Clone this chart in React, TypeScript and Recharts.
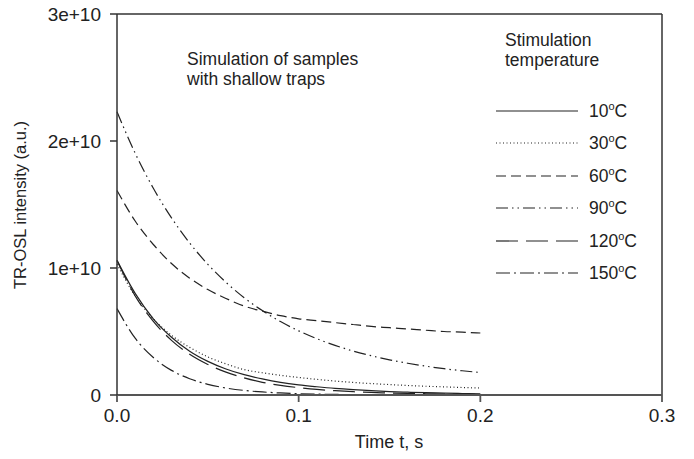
import { LineChart, Line, XAxis, YAxis, ReferenceLine } from 'recharts';

// time axis (s) and TR-OSL intensity in units of 1e10 a.u.
const times = [0, 0.01, 0.02, 0.03, 0.04, 0.05, 0.06, 0.07, 0.08, 0.09, 0.1,
  0.11, 0.12, 0.13, 0.14, 0.15, 0.16, 0.17, 0.18, 0.19, 0.2];

const t10 = [1.06, 0.8, 0.6, 0.455, 0.345, 0.265, 0.205, 0.16, 0.127, 0.1, 0.08,
  0.065, 0.052, 0.042, 0.034, 0.027, 0.022, 0.018, 0.015, 0.012, 0.01];
const t30 = [1.03, 0.78, 0.6, 0.47, 0.375, 0.3, 0.245, 0.2, 0.175, 0.155, 0.138,
  0.123, 0.11, 0.099, 0.09, 0.082, 0.075, 0.069, 0.064, 0.059, 0.055];
const t60 = [1.61, 1.37, 1.185, 1.035, 0.92, 0.83, 0.76, 0.7, 0.66, 0.625, 0.6,
  0.585, 0.57, 0.555, 0.54, 0.53, 0.52, 0.51, 0.5, 0.495, 0.488];
const t90 = [2.23, 1.904, 1.628, 1.395, 1.197, 1.029, 0.887, 0.766, 0.665, 0.578, 0.505,
  0.443, 0.391, 0.346, 0.309, 0.277, 0.25, 0.227, 0.207, 0.191, 0.177];
const t120 = [1.06, 0.78, 0.58, 0.43, 0.32, 0.24, 0.18, 0.135, 0.1, 0.076, 0.058,
  0.044, 0.034, 0.026, 0.02, 0.016, 0.012, 0.01, 0.008, 0.006, 0.005];
const t150 = [0.68, 0.447, 0.295, 0.194, 0.128, 0.084, 0.055, 0.036, 0.024, 0.016, 0.01,
  0.007, 0.005, 0.003, 0.002, 0.001, 0.001, 0.001, 0, 0, 0];

const xTicks = [0, 0.1, 0.2, 0.3];
const yTicks = [0, 1e10, 2e10, 3e10];

const series = [
  { key: 's10', temp: '10', values: t10, dash: undefined },
  { key: 's30', temp: '30', values: t30, dash: '1 2.5' },
  { key: 's60', temp: '60', values: t60, dash: '10 5' },
  { key: 's90', temp: '90', values: t90, dash: '12 4 1.5 4 1.5 4' },
  { key: 's120', temp: '120', values: t120, dash: '22 8' },
  { key: 's150', temp: '150', values: t150, dash: '14 4 2 4' },
];

const data = times.map((t, i) => {
  const row: Record<string, number> = { t };
  series.forEach((s) => { row[s.key] = s.values[i] * 1e10; });
  return row;
});

const FONT = '"Liberation Sans", Arial, sans-serif';
const INK = '#222';

export default function App() {
  return (
    <div style={{ position: 'relative', width: 694, height: 459, margin: -8, background: '#fff', fontFamily: FONT }}>
      <LineChart width={694} height={459} data={data} margin={{ top: 14, right: 32, left: 0, bottom: 0 }}>
        <XAxis
          dataKey="t"
          type="number"
          domain={[0, 0.3]}
          ticks={xTicks}
          tickFormatter={(v: number) => v.toFixed(1)}
          height={64}
          tickSize={7}
          tickMargin={7}
          stroke="#555"
          strokeWidth={1.8}
          tick={{ fill: INK, fontSize: 19, fontFamily: FONT }}
          label={{
            content: () => (
              <text x={389} y={442} textAnchor="middle" dominantBaseline="central" fontSize={18} fill={INK} fontFamily={FONT}>
                Time t, s
              </text>
            ),
          }}
        />
        <YAxis
          type="number"
          domain={[0, 3e10]}
          ticks={yTicks}
          tickFormatter={(v: number) => (v === 0 ? '0' : `${v / 1e10}e+10`)}
          width={117}
          tickSize={7}
          tickMargin={9}
          stroke="#333"
          strokeWidth={1.5}
          tick={{ fill: INK, fontSize: 19, fontFamily: FONT }}
          label={{
            content: () => (
              <text x={20} y={205} transform="rotate(-90 20 205)" textAnchor="middle" dominantBaseline="central" fontSize={16.5} fill={INK} fontFamily={FONT}>
                TR-OSL intensity (a.u.)
              </text>
            ),
          }}
        />
        <ReferenceLine y={3e10} stroke="#333" strokeWidth={1.5} />
        <ReferenceLine x={0.3} stroke="#333" strokeWidth={1.5} />
        {series.map((s) => (
          <Line
            key={s.key}
            dataKey={s.key}
            type="monotone"
            stroke={INK}
            strokeWidth={1.2}
            strokeDasharray={s.dash}
            dot={false}
            isAnimationActive={false}
          />
        ))}
      </LineChart>

      <div style={{ position: 'absolute', left: 187, top: 49, fontSize: 17.5, lineHeight: '20px', color: INK }}>
        Simulation of samples<br />with shallow traps
      </div>
      <div style={{ position: 'absolute', left: 505, top: 30, fontSize: 17.5, lineHeight: '20px', color: INK }}>
        Stimulation<br />temperature
      </div>

      {series.map((s, i) => (
        <div key={s.key} style={{ position: 'absolute', left: 496, top: 111 + i * 32.4 - 12, height: 24, display: 'flex', alignItems: 'center', color: INK, fontSize: 17.5 }}>
          <svg width={82} height={4} style={{ display: 'block' }}>
            <line x1={0} y1={2} x2={82} y2={2} stroke={INK} strokeWidth={1.2} strokeDasharray={s.dash} />
          </svg>
          <span style={{ marginLeft: 11 }}>
            {s.temp}<sup style={{ fontSize: 11, verticalAlign: 7 }}>o</sup>C
          </span>
        </div>
      ))}
    </div>
  );
}
